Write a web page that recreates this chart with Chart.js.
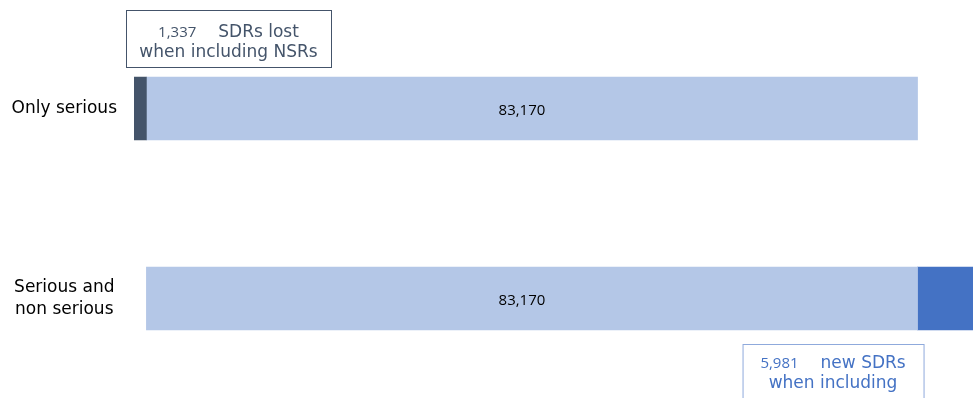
<!DOCTYPE html>
<html>
<head>
<meta charset="utf-8">
<script src="https://cdn.jsdelivr.net/npm/chart.js@4/dist/chart.umd.min.js"></script>
<style>
html,body{margin:0;padding:0;background:#fff;}
#wrap{width:973px;height:398px;position:relative;}
</style>
</head>
<body>
<div id="wrap"><canvas id="c" width="973" height="398"></canvas></div>
<script>
const categories = [['Only serious'], ['Serious and', 'non serious']];
const lostValues = [1337, null];      // SDRs lost when including NSRs
const spacerValues = [null, 1337];    // alignment spacer in second row
const baseValues = [83170, 83170];    // common SDRs
const newValues = [null, 5981];       // new SDRs when including NSRs
const baseLabels = ['83,170', '83,170'];
const lostNote = ['1,337', 'SDRs lost', 'when including NSRs'];
const newNote = ['5,981', 'new SDRs', 'when including'];

const DARK = '#44546A', LIGHT = '#B4C7E7', BLUE = '#4472C4';

const notesPlugin = {
  id: 'notes',
  afterDatasetsDraw(chart) {
    const ctx = chart.ctx;
    ctx.save();
    const baseMeta = chart.getDatasetMeta(2);
    ctx.fillStyle = '#000';
    ctx.font = '15px "Open Sans"';
    ctx.textAlign = 'center';
    ctx.textBaseline = 'middle';
    baseMeta.data.forEach((el, i) => {
      ctx.fillText(baseLabels[i], (el.x + el.base) / 2 - 10, el.y + 2);
    });

    function box(left, top, w, h, border, color, lines, b1, b2) {
      ctx.fillStyle = '#fff';
      ctx.fillRect(left, top, w, h);
      ctx.strokeStyle = border;
      ctx.lineWidth = 1;
      ctx.strokeRect(left + 0.5, top + 0.5, w, h);
      const cx = left + w / 2;
      ctx.fillStyle = color;
      ctx.textBaseline = 'alphabetic';
      ctx.textAlign = 'left';
      ctx.font = '15px "Open Sans"';
      const w1 = ctx.measureText(lines[0]).width;
      ctx.font = '17px "DejaVu Sans"';
      const w2 = ctx.measureText(lines[1]).width;
      const gap = 22;
      const x0 = cx - (w1 + gap + w2) / 2;
      ctx.font = '15px "Open Sans"';
      ctx.fillText(lines[0], x0, top + b1);
      ctx.font = '17px "DejaVu Sans"';
      ctx.fillText(lines[1], x0 + w1 + gap, top + b1);
      ctx.textAlign = 'center';
      ctx.fillText(lines[2], cx, top + b2);
    }
    const lostEl = chart.getDatasetMeta(0).data[0];
    const lostTop = lostEl.y - lostEl.height / 2;
    box(lostEl.base - 8, lostTop - 67, 205, 57, DARK, DARK, lostNote, 26.5, 46.5);

    const newEl = chart.getDatasetMeta(3).data[1];
    const newBottom = newEl.y + newEl.height / 2;
    box(newEl.base - 175, newBottom + 14, 181, 60, '#8FAADC', BLUE, newNote, 23.5, 43.5);
    ctx.restore();
  }
};

new Chart(document.getElementById('c'), {
  type: 'bar',
  data: {
    labels: categories,
    datasets: [
      { label: 'lost', data: lostValues, backgroundColor: DARK },
      { label: 'spacer', data: spacerValues, backgroundColor: 'rgba(0,0,0,0)' },
      { label: 'base', data: baseValues, backgroundColor: LIGHT },
      { label: 'new', data: newValues, backgroundColor: BLUE }
    ]
  },
  options: {
    indexAxis: 'y',
    responsive: false,
    animation: false,
    events: [],
    layout: { padding: { top: 13.5, bottom: 4.5, left: 0, right: 0 } },
    datasets: { bar: { barThickness: 63, borderWidth: 0 } },
    plugins: { legend: { display: false }, tooltip: { enabled: false } },
    scales: {
      x: {
        stacked: true, display: false, min: 0,
        max: 1337 + 83170 + 5981
      },
      y: {
        stacked: true,
        grid: { display: false, drawTicks: false },
        border: { display: false },
        afterFit(scale) { scale.width = 134; scale.paddingTop = 0; scale.paddingBottom = 0; },
        ticks: {
          color: '#000',
          font: { family: '"DejaVu Sans"', size: 17, lineHeight: 1.3 },
          crossAlign: 'center',
          padding: 17
        }
      }
    }
  },
  plugins: [notesPlugin]
});
</script>
</body>
</html>
